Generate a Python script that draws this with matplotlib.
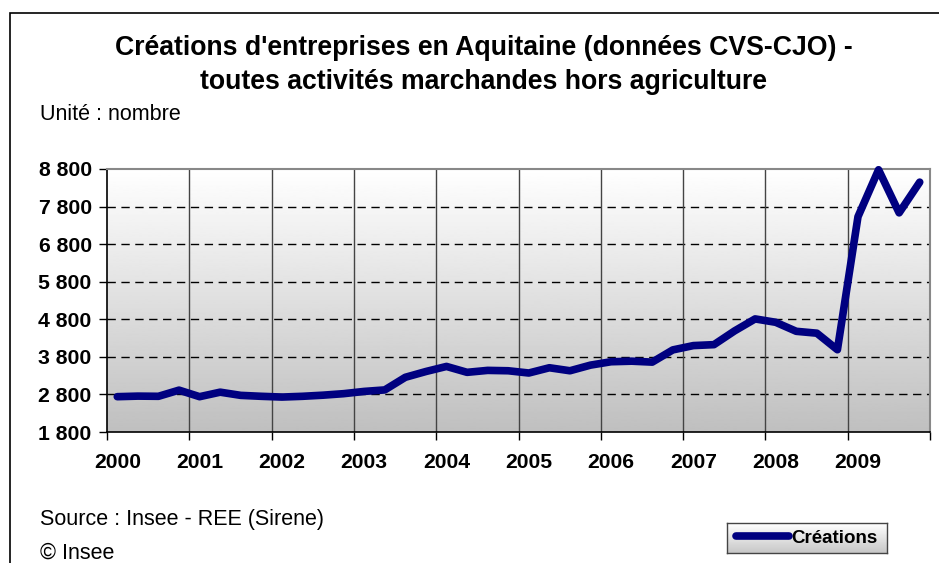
import matplotlib.pyplot as plt
import matplotlib.patches as patches
import matplotlib.ticker as ticker
import numpy as np

plt.rcParams['font.family'] = ['Liberation Sans', 'DejaVu Sans']

# donnees trimestrielles 2000T1 - 2009T4
annees = ['2000', '2001', '2002', '2003', '2004', '2005', '2006', '2007', '2008', '2009']
creations = [2740, 2755, 2750, 2914,
             2740, 2860, 2775, 2750,
             2730, 2750, 2780, 2820,
             2880, 2920, 3256, 3410,
             3545, 3388, 3440, 3430,
             3370, 3510, 3430, 3580,
             3670, 3685, 3660, 3985,
             4100, 4125, 4490, 4810,
             4720, 4480, 4430, 3990,
             7530, 8780, 7633, 8450]
yticks = [1800, 2800, 3800, 4800, 5800, 6800, 7800, 8800]

W, H = 939, 563
fig = plt.figure(figsize=(W / 100, H / 100), dpi=100)

# cadre exterieur
fig.patches.append(patches.Rectangle((10 / W, -0.1), 1.2, 1 - 13 / H + 0.1,
                                     transform=fig.transFigure, fill=False,
                                     edgecolor='black', linewidth=1.2))

ax = fig.add_axes([107 / W, 1 - 432 / H, (930 - 107) / W, (432 - 169) / H])

x = np.arange(len(creations))
n = len(creations)

# fond degrade
grad = np.linspace(1.0, 0.75, 256).reshape(-1, 1)
ax.imshow(grad, cmap='gray', vmin=0, vmax=1, aspect='auto',
          extent=[-0.5, n - 0.5, 1800, 8800], zorder=0)

ax.plot(x, creations, color='#000080', linewidth=5.5, solid_capstyle='round',
        solid_joinstyle='round', label='Créations', zorder=3, clip_on=False)

ax.set_xlim(-0.5, n - 0.5)
ax.set_ylim(1800, 8800)

# grille
for yv in yticks[1:-1]:
    ax.axhline(yv, color='black', linewidth=1, linestyle=(0, (6, 4)), zorder=1)
for k in range(1, len(annees)):
    ax.axvline(4 * k - 0.5, color='#444444', linewidth=1, zorder=1)

ax.set_yticks(yticks)
ax.yaxis.set_major_formatter(ticker.FuncFormatter(lambda v, p: f'{int(v):,}'.replace(',', ' ')))
ax.tick_params(axis='y', direction='out', length=6, width=1, pad=5, labelsize=15.3)
for lab in ax.get_yticklabels():
    lab.set_fontweight('bold')

ax.set_xticks([4 * k - 0.5 for k in range(len(annees) + 1)])
ax.set_xticklabels([])
ax.set_xticks([4 * k for k in range(len(annees))], minor=True)
ax.set_xticklabels(annees, minor=True, fontweight='bold', fontsize=15.2)
ax.tick_params(axis='x', which='major', direction='out', length=6, width=1)
ax.tick_params(axis='x', which='minor', length=0, pad=15)

for s in ['top', 'right']:
    ax.spines[s].set_color('#888888')
    ax.spines[s].set_linewidth(1.5)
for s in ['left', 'bottom']:
    ax.spines[s].set_color('black')
    ax.spines[s].set_linewidth(1.2)

fig.text(484 / W, 1 - 48 / H, "Créations d'entreprises en Aquitaine (données CVS-CJO) -",
         ha='center', va='center', fontsize=19.2, fontweight='bold')
fig.text(484 / W, 1 - 82 / H, "toutes activités marchandes hors agriculture",
         ha='center', va='center', fontsize=19.2, fontweight='bold')
fig.text(40 / W, 1 - 114 / H, 'Unité : nombre', ha='left', va='center', fontsize=15.5)
fig.text(40 / W, 1 - 519 / H, 'Source : Insee - REE (Sirene)', ha='left', va='center', fontsize=15.5)
fig.text(40 / W, 1 - 553 / H, '© Insee', ha='left', va='center', fontsize=15.5)

# legende sur fond degrade
lax = fig.add_axes([727 / W, 1 - 553 / H, 160 / W, 30 / H])
lax.imshow(np.linspace(1.0, 0.78, 64).reshape(-1, 1), cmap='gray', vmin=0, vmax=1,
           aspect='auto', extent=[0, 1, 0, 1])
lax.set_xticks([])
lax.set_yticks([])
for s in lax.spines.values():
    s.set_color('#444444')
    s.set_linewidth(1)
h, l = ax.get_legend_handles_labels()
leg = lax.legend(h, l, loc='center', frameon=False,
                 handlelength=2.8, handletextpad=0.15, borderpad=0.2,
                 prop={'weight': 'bold', 'size': 13.5})

fig.savefig('out.png', dpi=100)
